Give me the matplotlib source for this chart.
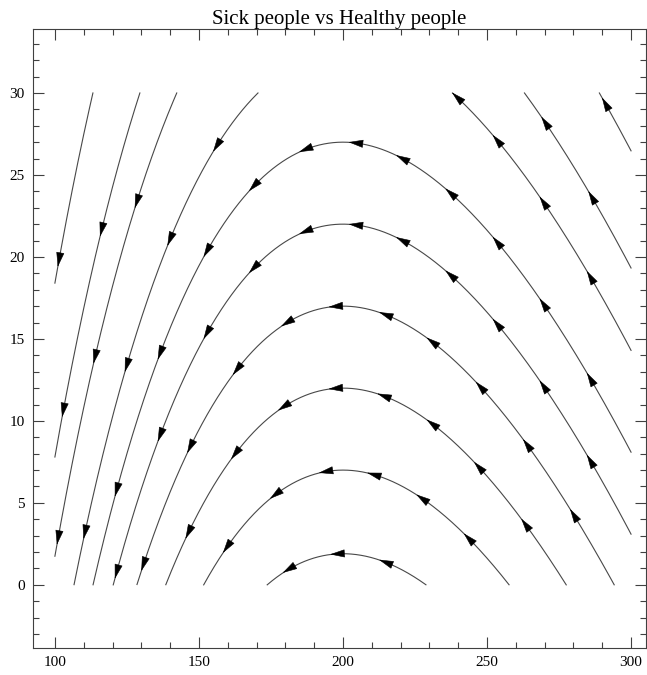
import numpy as np
import matplotlib
matplotlib.use("Agg")
import matplotlib.pyplot as plt
from matplotlib.ticker import MultipleLocator

# SIR phase plane: dS/dt = -b*S*I, dI/dt = b*S*I - g*I, with g/b = RHO
RHO = 200.0

# one point on each trajectory (S, I)
SEED_S = [113.2, 129.5, 142.3, 170.5, 200, 200, 200, 200, 200, 200, 238, 263, 289]
SEED_I = [30, 30, 30, 30, 27, 22, 17, 12, 7, 1.9, 30, 30, 30]
# which side of the peak (S = RHO) is drawn: -1 left only, 0 both, 1 right only
SIDE = [-1, -1, -1, -1, 0, 0, 0, 0, 0, 0, 1, 1, 1]

# S position of the arrow heads on each trajectory (same order as seeds)
ARROW_S = [
    [101.4],
    [116.2, 102.9],
    [128.4, 113.9, 101.1],
    [156.1, 139.9, 124.9, 110.4],
    [121.4, 136.5, 152.7, 168.9, 186.8, 204.2, 220.4, 237.2, 253.4, 269.5, 285.8],
    [121.4, 136.5, 152.7, 168.9, 186.8, 204.2, 220.4, 237.2, 253.4, 269.5, 285.8],
    [130.7, 146.9, 163.1, 180.4, 197.2, 214.6, 230.8, 247.6, 263.8, 280.0],
    [146.3, 162.5, 179.3, 197.2, 214.0, 230.8, 247.0, 263.2],
    [159.6, 176.4, 193.8, 210.5, 227.3, 243.5],
    [181.0, 197.8, 214.6],
    [239.5, 253.4, 269.5, 285.8],
    [270.1, 286.3],
    [291.0],
]

S_RANGE = (100, 300)
I_RANGE = (0, 30)
TITLE = "Sick people vs Healthy people"


def _potential(s):
    return -s + RHO * np.log(s)


def _trajectory(s0, i0, s):
    return i0 + _potential(s) - _potential(s0)


def _arrow(axis, s0, i0, s, half_px=6.5):
    to_disp = axis.transData
    to_data = axis.transData.inverted()
    ds = -0.05
    p0 = to_disp.transform((s, _trajectory(s0, i0, s)))
    p1 = to_disp.transform((s + ds, _trajectory(s0, i0, s + ds)))
    u = (p1 - p0) / np.hypot(*(p1 - p0))
    tip = to_data.transform(p0 + half_px * u)
    tail = to_data.transform(p0 - half_px * u)
    axis.annotate(
        "",
        xy=tip,
        xytext=tail,
        arrowprops=dict(arrowstyle="-|>,head_length=0.95,head_width=0.26",
                        color="black", lw=0.4, shrinkA=0, shrinkB=0),
    )


def main() -> None:
    plt.rcParams["font.family"] = ["Liberation Serif", "DejaVu Serif"]
    fig = plt.figure(figsize=(6.47, 6.75), dpi=100)
    axis = fig.add_axes([0.051, 0.04, 0.9475, 0.917])
    axis.set_xlim(92.4, 305.2)
    axis.set_ylim(-3.85, 33.9)

    s = np.linspace(S_RANGE[0], S_RANGE[1], 4001)
    for s0, i0, side in zip(SEED_S, SEED_I, SIDE):
        i = _trajectory(s0, i0, s)
        keep = (i >= I_RANGE[0]) & (i <= I_RANGE[1])
        if side < 0:
            keep &= s < RHO
        elif side > 0:
            keep &= s > RHO
        axis.plot(s, np.where(keep, i, np.nan), color="#484848", linewidth=0.8)

    for s0, i0, arrows in zip(SEED_S, SEED_I, ARROW_S):
        for a in arrows:
            _arrow(axis, s0, i0, a)

    axis.xaxis.set_major_locator(MultipleLocator(50))
    axis.xaxis.set_minor_locator(MultipleLocator(10))
    axis.yaxis.set_major_locator(MultipleLocator(5))
    axis.yaxis.set_minor_locator(MultipleLocator(1))
    axis.tick_params(which="both", direction="in", top=True, right=True,
                     labelsize=11, width=0.8, color="#404040")
    axis.tick_params(which="major", length=8, pad=6)
    axis.tick_params(which="minor", length=4)
    for spine in axis.spines.values():
        spine.set_linewidth(0.8)
        spine.set_color("#404040")
    axis.set_title(TITLE, fontsize=15, pad=3)

    fig.savefig("out.png", dpi=100)
    plt.close(fig)


if __name__ == "__main__":
    main()
